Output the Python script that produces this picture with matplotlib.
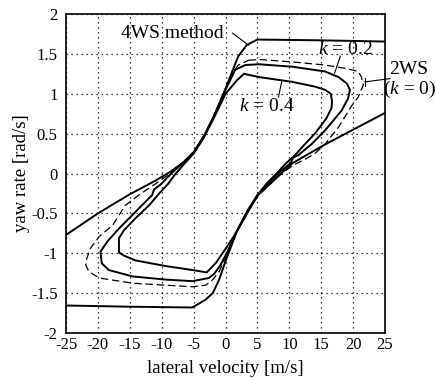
import numpy as np
import matplotlib
matplotlib.use('Agg')
import matplotlib.pyplot as plt
from matplotlib import rcParams

rcParams['font.family'] = 'Liberation Serif'
rcParams['mathtext.fontset'] = 'custom'
rcParams['mathtext.rm'] = 'Liberation Serif'
rcParams['mathtext.it'] = 'Liberation Serif:italic'
rcParams['axes.linewidth'] = 1.2

# 4WS method: two branches (each leaves the plot window)
ws4_up_x = [-25, -20, -15, -11, -8.7, -6.6, -5, -3.4, -1.8, 0, 1, 2, 3.3, 5, 15, 25]
ws4_up_y = [-0.77, -0.5, -0.26, -0.09, 0.02, 0.14, 0.26, 0.46, 0.72, 1.06, 1.27, 1.47, 1.61, 1.68, 1.67, 1.655]
ws4_lo_x = [-25, -15, -5.2, -3.1, -2, -1, 0, 1.8, 3.4, 5, 7, 8.7, 10.5, 15.5, 20, 25]
ws4_lo_y = [-1.655, -1.67, -1.68, -1.58, -1.5, -1.33, -1.1, -0.72, -0.47, -0.27, -0.13, 0.0, 0.13, 0.36, 0.55, 0.76]

# 2WS (k = 0), closed loop
ws2_x = [3.6, 5.2, 10.4, 15.6, 18.7, 20.8, 21.3, 21.6, 20.8, 19.7, 17.7, 15.6, 14, 12.5, 10.5,
         8.5, 7, 5, 3.4, 1.8, 0.5, -1, -2, -3.1, -5.2, -9.4, -14.6, -19.8, -21.4, -21.9, -21.8,
         -21.2, -19.8, -17.7, -16.2, -15.7, -13.6, -10.9, -8.7, -6.6, -5, -3.4, -1.8, 0, 1, 2, 3.6]
ws2_y = [1.42, 1.43, 1.40, 1.36, 1.32, 1.28, 1.21, 1.11, 0.96, 0.84, 0.58, 0.37, 0.25, 0.18, 0.1,
         -0.02, -0.13, -0.29, -0.5, -0.73, -0.97, -1.23, -1.33, -1.40, -1.42, -1.40, -1.375, -1.31, -1.23, -1.15, -1.08,
         -0.94, -0.79, -0.65, -0.46, -0.40, -0.27, -0.125, 0.0, 0.14, 0.27, 0.47, 0.73, 1.07, 1.25, 1.36, 1.42]

# k = 0.2, closed loop
k02_x = [1.5, 3.1, 5.2, 10.4, 15.6, 17.7, 19.0, 19.5, 19.2, 18.2, 15.6, 13.5, 11.4, 10.6, 10.2,
         8.5, 7, 5, 3.4, 1.8, 0.3, -0.8, -1.8, -2.6, -5.2, -9.4, -14.6, -18.3, -19.4, -19.6,
         -18.5, -16.7, -14.6, -12.5, -11.5, -11.2, -10.2, -8.5, -6.6, -5, -3.4, -1.8, 0, 1.5]
k02_y = [1.3, 1.36, 1.37, 1.34, 1.28, 1.21, 1.13, 1.05, 0.94, 0.79, 0.54, 0.37, 0.23, 0.2, 0.13,
         0.02, -0.11, -0.28, -0.49, -0.72, -0.98, -1.15, -1.26, -1.31, -1.35, -1.33, -1.29, -1.21, -1.125, -0.98,
         -0.85, -0.69, -0.52, -0.35, -0.27, -0.2, -0.14, 0.0, 0.14, 0.27, 0.47, 0.72, 1.05, 1.3]

# k = 0.4, closed loop
k04_x = [2.9, 5.2, 10.4, 14, 15.6, 16.5, 16.7, 16.6, 15.8, 14, 12, 10.9, 9.5, 8, 6.5, 5,
         2.8, 1.2, -0.3, -1.5, -2.95, -5.2, -9.4, -14.1, -15.9, -16.7, -16.7, -15.9, -14.1,
         -12, -10.4, -9, -8, -6.5, -5, -3.4, -1.8, 0, 1.8, 2.9]
k04_y = [1.25, 1.21, 1.15, 1.09, 1.05, 1.0, 0.9, 0.82, 0.69, 0.5, 0.33, 0.23, 0.13, 0.0, -0.12, -0.27,
         -0.58, -0.8, -0.98, -1.12, -1.24, -1.21, -1.16, -1.09, -1.03, -0.99, -0.81, -0.71, -0.56,
         -0.40, -0.25, -0.13, -0.02, 0.12, 0.25, 0.45, 0.7, 1.0, 1.17, 1.25]

xticks = [-25, -20, -15, -10, -5, 0, 5, 10, 15, 20, 25]
yticks = [-2, -1.5, -1, -0.5, 0, 0.5, 1, 1.5, 2]

fig = plt.figure(figsize=(4.36, 3.78), dpi=100)
ax = fig.add_axes([0.1514, 0.119, 0.7317, 0.8439])

ax.plot(ws4_up_x, ws4_up_y, 'k-', lw=1.4)
ax.plot(ws4_lo_x, ws4_lo_y, 'k-', lw=1.4)
ax.plot(ws2_x, ws2_y, color='k', lw=0.9, ls=(0, (6, 3)))
ax.plot(k02_x, k02_y, 'k-', lw=1.4)
ax.plot(k04_x, k04_y, 'k-', lw=1.4)

ax.set_xlim(-25, 25)
ax.set_ylim(-2, 2)
ax.set_xticks(xticks)
ax.set_yticks(yticks)
ax.set_xticklabels([str(t) for t in xticks])
ax.set_yticklabels(['%g' % t for t in yticks])
ax.tick_params(length=0, labelsize=12, pad=3)
ax.tick_params(axis='y', pad=6)
ax.grid(True, color='k', ls=(0, (1, 3)), lw=0.9)

ax.set_xlabel('lateral velocity [m/s]', fontsize=13.5, labelpad=5)
ax.set_ylabel('yaw rate [rad/s]', fontsize=13.5, labelpad=1)

# labels with leader lines
ax.text(-0.3, 1.76, '4WS method', fontsize=14, ha='right', va='center')
ax.plot([1.1, 3.6], [1.76, 1.61], 'k-', lw=0.8)
ax.text(18.8, 1.55, '$k$ = 0.2', fontsize=14, ha='center', va='center')
ax.plot([18.0, 17.1], [1.47, 1.26], 'k-', lw=0.8)
ax.text(6.5, 0.84, '$k$ = 0.4', fontsize=14, ha='center', va='center')
ax.plot([8.8, 8.3], [1.15, 0.96], 'k-', lw=0.8)
ax.text(28.7, 1.30, '2WS', fontsize=14, ha='center', va='center', clip_on=False)
ax.text(28.8, 1.05, '($k$ = 0)', fontsize=14, ha='center', va='center', clip_on=False)
ax.plot([21.9, 25.8], [1.15, 1.19], 'k-', lw=0.8, clip_on=False)
ax.plot([21.9, 21.9], [1.1, 1.2], 'k-', lw=0.8)

fig.savefig('out.png', dpi=100)
